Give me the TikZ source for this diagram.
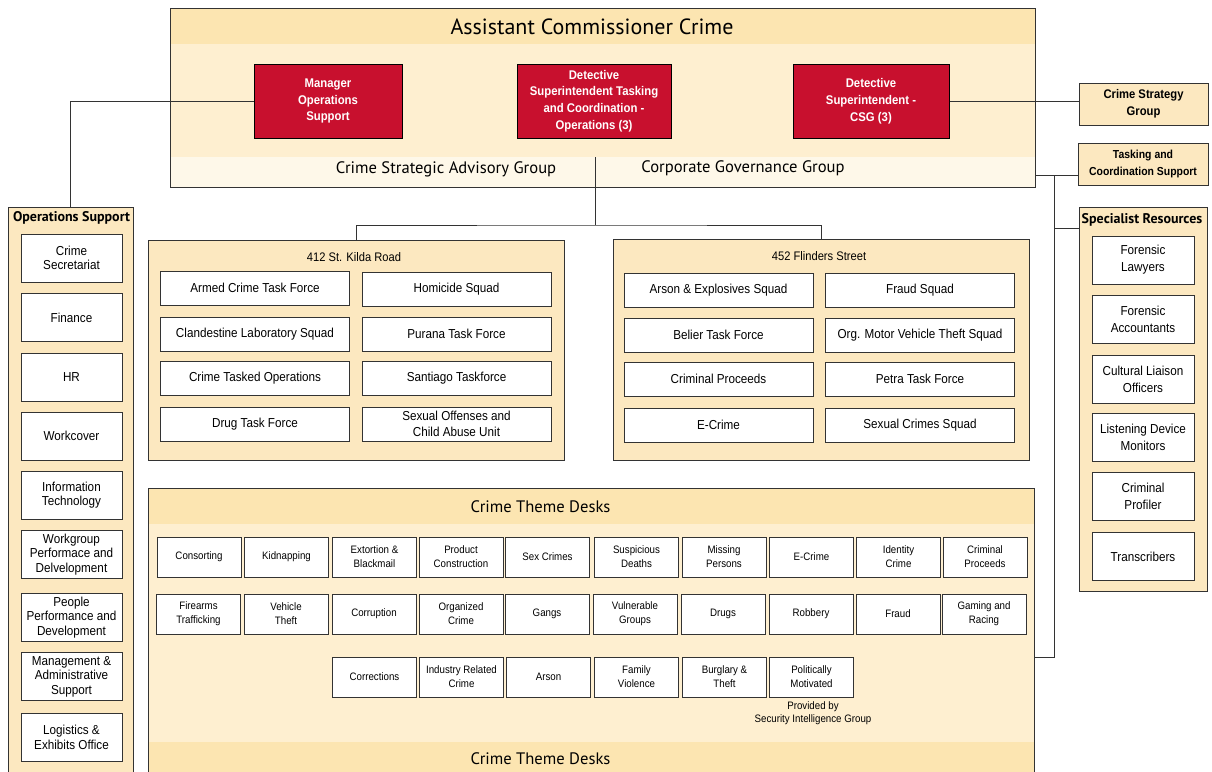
\documentclass[tikz,border=0pt]{standalone}
\usepackage{fontspec}
\setmainfont{PT Sans}
\newfontfamily\condfont[FakeStretch=0.9]{Liberation Sans}

\definecolor{gold}{HTML}{FCE5B1}
\definecolor{cream}{HTML}{FEEFD0}
\definecolor{paper}{HTML}{FEF8E9}
\definecolor{sand}{HTML}{FCE8C0}
\definecolor{crimson}{HTML}{C8102E}
\definecolor{ink}{HTML}{333333}

\tikzset{
  panel/.style={draw=ink, line width=1pt, inner sep=0pt},
  unit/.style={draw=ink, fill=white, line width=0.9pt, align=center, inner sep=0pt,
    font=\condfont\fontsize{13}{16}\selectfont},
  squad/.style={unit, minimum width=189, minimum height=34},
  opsunit/.style={unit, minimum width=101, minimum height=48,
    font=\condfont\fontsize{13}{14.5}\selectfont},
  specunit/.style={unit, minimum width=102, minimum height=48,
    font=\condfont\fontsize{13}{17}\selectfont},
  desk/.style={unit, minimum width=84, minimum height=40,
    font=\condfont\fontsize{10.8}{14}\selectfont},
  chief/.style={draw=black, fill=crimson, text=white, line width=1pt,
    minimum width=150, minimum height=74, align=center, inner sep=0pt,
    font=\condfont\bfseries\fontsize{12.6}{16.8}\selectfont},
  unitgroup/.style={panel, fill=sand, align=center,
    font=\condfont\bfseries\fontsize{12.5}{17}\selectfont},
  heading/.style={inner sep=0pt, font=\fontsize{16.6}{18}\selectfont},
  paneltitle/.style={inner sep=0pt, font=\bfseries\fontsize{14}{16}\selectfont},
  link/.style={draw=ink, line width=0.9pt},
}

\begin{document}
\begin{tikzpicture}[x=1pt, y=-1pt]
\clip (0,0) rectangle (1212,771);

% command level
\node[panel, fill=cream, minimum width=865, minimum height=179, path picture={
    \fill[gold] (path picture bounding box.north west) rectangle ([yshift=-36pt]path picture bounding box.north east);
    \fill[paper] (path picture bounding box.south west) rectangle ([yshift=30pt]path picture bounding box.south east);
  }] (acc) at (602.5,97.5) {};
\node[inner sep=0pt, font=\fontsize{22}{24}\selectfont] (acct) at (592,27) {Assistant Commissioner Crime};
\node[chief, minimum width=148] (mos) at (328,101) {Manager\\Operations\\Support};
\node[chief, minimum width=154] (dstc) at (594,101) {Detective\\Superintendent Tasking\\and Coordination -\\Operations (3)};
\node[chief, minimum width=156] (dscsg) at (871,101) {Detective\\Superintendent -\\CSG (3)};
\node[heading] (csag) at (446,169) {Crime Strategic Advisory Group};
\node[heading] (cgg) at (743,168) {Corporate Governance Group};
\coordinate (split) at (595,157);
\coordinate (fork) at (595,225);

% right hand groups
\node[unitgroup, minimum width=129, minimum height=42] (csg) at (1143.5,104) {Crime Strategy\\Group};
\node[unitgroup, minimum width=130, minimum height=42,
  font=\condfont\bfseries\fontsize{11.6}{17}\selectfont] (tcs) at (1143,164) {Tasking and\\Coordination Support};
\coordinate (trunk) at (1054,175);
\coordinate (spur) at (1054,228);
\coordinate (bend) at (1054,657);

% operations support
\node[panel, fill=sand, minimum width=125, minimum height=593] (ops) at (70.5,503.5) {};
\node[paneltitle] (opst) at (71.5,218) {Operations Support};
\node[opsunit] (o1) at (71.5,258) {Crime\\Secretariat};
\node[opsunit] (o2) at (71.5,317.5) {Finance};
\node[opsunit] (o3) at (71.5,377.5) {HR};
\node[opsunit] (o4) at (71.5,436) {Workcover};
\node[opsunit] (o5) at (71.5,495) {Information\\Technology};
\node[opsunit] (o6) at (71.5,554.5) {Workgroup\\Performace and\\Delvelopment};
\node[opsunit] (o7) at (71.5,617.5) {People\\Performance and\\Development};
\node[opsunit] (o8) at (71.5,676.5) {Management \&\\Administrative\\Support};
\node[opsunit] (o9) at (71.5,737.5) {Logistics \&\\Exhibits Office};

% specialist resources
\node[panel, fill=sand, minimum width=128, minimum height=384] (spr) at (1143,399) {};
\node[paneltitle] (sprt) at (1142,220) {Specialist Resources};
\node[specunit] (s1) at (1143,260) {Forensic\\Lawyers};
\node[specunit] (s2) at (1143,319) {Forensic\\Accountants};
\node[specunit] (s3) at (1143,379) {Cultural Liaison\\Officers};
\node[specunit] (s4) at (1143,437.5) {Listening Device\\Monitors};
\node[specunit] (s5) at (1143,496.5) {Criminal\\Profiler};
\node[specunit] (s6) at (1143,556.5) {Transcribers};

% 412 St. Kilda Road
\node[panel, fill=sand, minimum width=416, minimum height=220] (stk) at (356,350) {};
\node[inner sep=0pt, font=\condfont\fontsize{12.4}{14}\selectfont] (stkt) at (354,257) {412 St. Kilda Road};
\node[squad] (k1) at (255,288) {Armed Crime Task Force};
\node[squad] (k2) at (456.5,289) {Homicide Squad};
\node[squad] (k3) at (255,334) {Clandestine Laboratory Squad};
\node[squad] (k4) at (456.5,334) {Purana Task Force};
\node[squad] (k5) at (255,378) {Crime Tasked Operations};
\node[squad] (k6) at (456.5,378) {Santiago Taskforce};
\node[squad] (k7) at (255,424) {Drug Task Force};
\node[squad] (k8) at (456.5,424) {Sexual Offenses and\\Child Abuse Unit};

% 452 Flinders Street
\node[panel, fill=sand, minimum width=416, minimum height=221] (fls) at (821,349.5) {};
\node[inner sep=0pt, font=\condfont\fontsize{12.4}{14}\selectfont] (flst) at (819,256) {452 Flinders Street};
\node[squad] (f1) at (718.5,290) {Arson \& Explosives Squad};
\node[squad] (f2) at (920,290) {Fraud Squad};
\node[squad] (f3) at (718.5,335) {Belier Task Force};
\node[squad] (f4) at (920,335) {Org. Motor Vehicle Theft Squad};
\node[squad] (f5) at (718.5,379) {Criminal Proceeds};
\node[squad] (f6) at (920,379) {Petra Task Force};
\node[squad] (f7) at (718.5,425) {E-Crime};
\node[squad] (f8) at (920,425) {Sexual Crimes Squad};

% crime theme desks
\node[panel, fill=cream, minimum width=886, minimum height=312, path picture={
    \fill[gold] (path picture bounding box.north west) rectangle ([yshift=-36pt]path picture bounding box.north east);
    \fill[gold] (path picture bounding box.south west) rectangle ([yshift=58pt]path picture bounding box.south east);
  }] (ctd) at (591,644) {};
\node[heading] (ctdt) at (540.5,507) {Crime Theme Desks};
\node[heading] (ctdb) at (540.5,759) {Crime Theme Desks};
\node[desk] (d1) at (199,557) {Consorting};
\node[desk] (d2) at (286.5,557) {Kidnapping};
\node[desk] (d3) at (374.5,557) {Extortion \&\\Blackmail};
\node[desk] (d4) at (461,557) {Product\\Construction};
\node[desk] (d5) at (547.5,557) {Sex Crimes};
\node[desk] (d6) at (636.5,557) {Suspicious\\Deaths};
\node[desk] (d7) at (724,557) {Missing\\Persons};
\node[desk] (d8) at (811.5,557) {E-Crime};
\node[desk] (d9) at (898.5,557) {Identity\\Crime};
\node[desk] (d10) at (985,557) {Criminal\\Proceeds};
\node[desk] (d11) at (198.5,614) {Firearms\\Trafficking};
\node[desk] (d12) at (286,614) {Vehicle\\Theft};
\node[desk] (d13) at (374,614) {Corruption};
\node[desk] (d14) at (461,614) {Organized\\Crime};
\node[desk] (d15) at (547,614) {Gangs};
\node[desk] (d16) at (635,614) {Vulnerable\\Groups};
\node[desk] (d17) at (723,614) {Drugs};
\node[desk] (d18) at (811,614) {Robbery};
\node[desk] (d19) at (898,614) {Fraud};
\node[desk] (d20) at (984,614) {Gaming and\\Racing};
\node[desk] (d21) at (374.5,677) {Corrections};
\node[desk] (d22) at (461.5,677) {Industry Related\\Crime};
\node[desk] (d23) at (548.5,677) {Arson};
\node[desk] (d24) at (636.5,677) {Family\\Violence};
\node[desk] (d25) at (724.5,677) {Burglary \&\\Theft};
\node[desk] (d26) at (811.5,677) {Politically\\Motivated};
\node[inner sep=0pt, align=center, font=\condfont\fontsize{10.8}{12.5}\selectfont] (sig) at (813,713) {Provided by\\Security Intelligence Group};

% connectors
\draw[link] (mos.west) -| (ops.north);
\draw[link] (dscsg.east) -- (dscsg.east -| csg.west);
\draw[link] (split) -- (fork);
\draw[link] (stk.north) |- (fork) -| (fls.north);
\draw[link] (acc.east |- trunk) -- (tcs.west |- trunk);
\draw[link] (trunk) -- (bend) -- (ctd.east |- bend);
\draw[link] (spur) -- (spur -| spr.west);
\end{tikzpicture}
\end{document}
